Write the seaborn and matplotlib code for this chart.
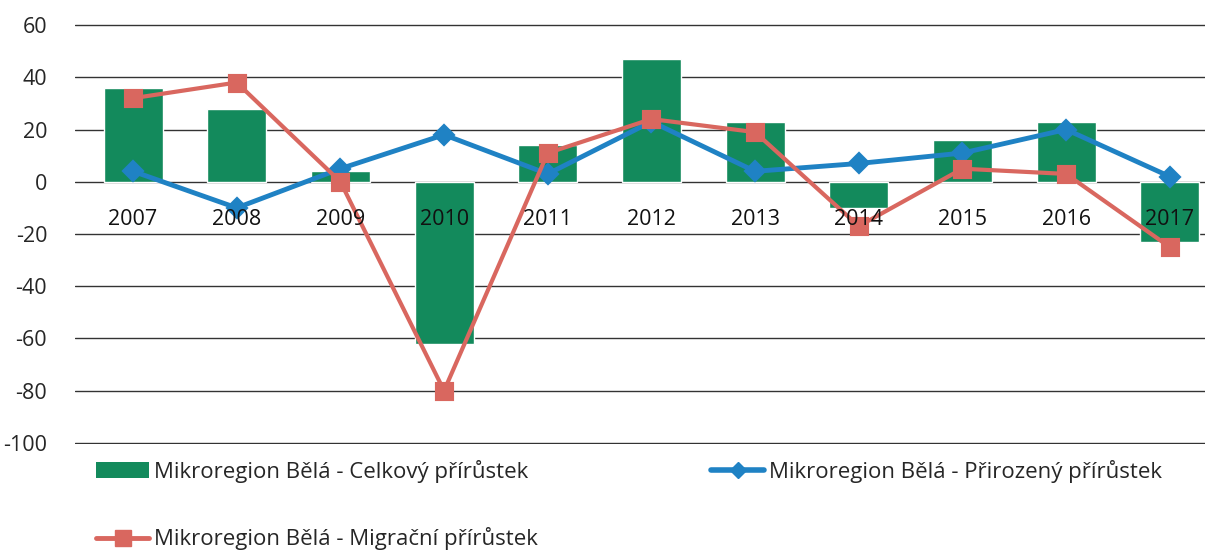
import pandas as pd
import seaborn as sns
import matplotlib.pyplot as plt
from matplotlib.patches import Patch
from matplotlib.lines import Line2D

# values
years = ['2007', '2008', '2009', '2010', '2011', '2012', '2013', '2014', '2015', '2016', '2017']
celkovy = [36, 28, 4, -62, 14, 47, 23, -10, 16, 23, -23]
prirozeny = [4, -10, 5, 18, 3, 23, 4, 7, 11, 20, 2]
migracni = [32, 38, 0, -80, 11, 24, 19, -17, 5, 3, -25]

df = pd.DataFrame({'rok': years, 'celkovy': celkovy,
                   'prirozeny': prirozeny, 'migracni': migracni})

green = '#138a5c'
blue = '#1f82c4'
red = '#d9675f'

sns.set_style('white')
plt.rcParams['font.family'] = ['Open Sans', 'DejaVu Sans']
plt.rcParams['axes.unicode_minus'] = False

fig = plt.figure(figsize=(12.1, 5.53), dpi=100)
ax = fig.add_axes([75 / 1210, 1 - 444 / 553, 1130 / 1210, 420 / 553])

sns.barplot(data=df, x='rok', y='celkovy', color=green, saturation=1,
            width=0.57, ax=ax, zorder=2)
sns.pointplot(data=df, x='rok', y='prirozeny', color=blue, markers='D',
              markersize=9, linewidth=3.5, ax=ax, zorder=3)
sns.pointplot(data=df, x='rok', y='migracni', color=red, markers='s',
              markersize=11, linewidth=3, ax=ax, zorder=4)

ax.set_ylim(-100.4, 60.4)
ax.set_xlim(-0.56, 10.34)
ax.set_yticks(range(-100, 61, 20))
ax.yaxis.grid(True, color='#333333', linewidth=1.0)
ax.set_axisbelow(True)
for s in ax.spines.values():
    s.set_visible(False)
ax.tick_params(axis='y', length=0, labelsize=15.5, pad=20)
ax.set_xticks([])
ax.set_xlabel('')
ax.set_ylabel('')

# year labels sit just under the zero line
for i, y in enumerate(years):
    ax.text(i, -14.5, y, ha='center', va='center', fontsize=15.5, color='#111111', zorder=5)

handles = [
    Patch(facecolor=green, edgecolor='none'),
    Line2D([], [], color=red, marker='s', markersize=11, linewidth=3.5),
    Line2D([], [], color=blue, marker='D', markersize=8, linewidth=4),
]
labels = ['Mikroregion Bělá - Celkový přírůstek',
          'Mikroregion Bělá - Migrační přírůstek',
          'Mikroregion Bělá - Přirozený přírůstek']
fig.legend(handles, labels, loc='upper left', bbox_to_anchor=(76 / 1210, 1 - 440 / 553),
           ncol=2, frameon=False, fontsize=16, handlelength=2.4, handletextpad=0.2,
           columnspacing=7.8, labelspacing=2.0)

fig.savefig('out.png', dpi=100)
